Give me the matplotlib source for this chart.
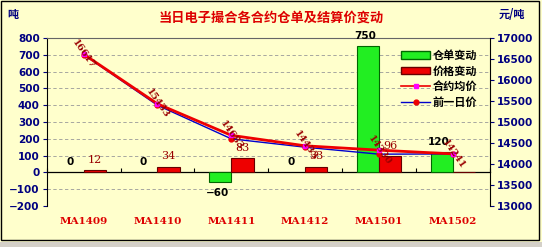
import matplotlib
matplotlib.use("Agg")
import matplotlib.pyplot as plt
from matplotlib.patches import Rectangle
from matplotlib.lines import Line2D
from matplotlib.transforms import blended_transform_factory
import numpy as np

plt.rcParams['font.family'] = ['Noto Sans CJK SC', 'DejaVu Sans']

contracts = ["MA1409", "MA1410", "MA1411", "MA1412", "MA1501", "MA1502"]
stock_change = [0, 0, -60, 0, 750, 120]        # 仓单变动 (吨)
price_change = [12, 34, 83, 33, 96, 1]         # 价格变动
avg_price = [16617, 15433, 14683, 14433, 14330, 14241]   # 合约均价
prev_price = [16605, 15399, 14600, 14400, 14234, 14240]  # 前一日价

BG = "#FFFFCC"
NAVY = "#000080"

fig = plt.figure(figsize=(5.42, 2.47), dpi=100)
fig.patch.set_facecolor(BG)
fig.patches.append(Rectangle((0.002, 0.028), 0.993, 0.968, transform=fig.transFigure,
                             fill=False, edgecolor="black", linewidth=1.0))
fig.patches.append(Rectangle((0, 0), 1, 0.022, transform=fig.transFigure,
                             facecolor="#D4D0C8", edgecolor="none"))

ax = fig.add_axes([0.086, 0.166, 0.818, 0.68])
ax.set_facecolor(BG)
x = np.arange(len(contracts))
w = 0.3

ax.bar(x - w / 2, stock_change, w, color="#22EE22", edgecolor="#006600",
       linewidth=[0.8 if v else 0 for v in stock_change], zorder=3)
ax.bar(x + w / 2, price_change, w, color="#EE0000", edgecolor="#660000",
       linewidth=[0.8 if v else 0 for v in price_change], zorder=3)

ax.set_xlim(-0.5, len(contracts) - 0.5)
ax.set_ylim(-200, 800)
ax.set_yticks(np.arange(-200, 801, 100))
for v in np.arange(-200, 801, 100):
    if v != 0:
        ax.axhline(v, color="#999999", linestyle=(0, (4, 3)), linewidth=0.6, zorder=1)
ax.tick_params(axis="y", colors=NAVY, labelsize=7.5, length=3, width=0.8, pad=2)
for t in ax.get_yticklabels():
    t.set_fontweight("bold")
    t.set_family("DejaVu Sans")

ax.spines["bottom"].set_position(("data", 0))
ax.spines["bottom"].set_linewidth(0.9)
ax.spines["left"].set_linewidth(0.8)
ax.spines["right"].set_visible(False)
ax.spines["top"].set_color("#666666")
ax.spines["top"].set_linewidth(0.8)
ax.set_xticks(np.arange(-0.5, len(contracts), 1.0))
ax.set_xticklabels([])
ax.tick_params(axis="x", direction="in", length=3, width=0.8)

trans = blended_transform_factory(ax.transData, ax.transAxes)
for xi, name in zip(x, contracts):
    ax.text(xi, -0.095, name, transform=trans, ha="center", va="center",
            color="#DD0000", fontsize=7.5, fontweight="bold", family="DejaVu Serif")

for xi, v in zip(x, stock_change):
    off = 4 if v >= 0 else -4
    ax.annotate(str(v).replace("-", "−"), (xi - w / 2, v), xytext=(-2, off), textcoords="offset points",
                ha="center", va="bottom" if v >= 0 else "top", fontsize=7.5,
                fontweight="bold", color="black", family="DejaVu Sans")
for xi, v in zip(x, price_change):
    if v < 10:
        continue
    ax.annotate(str(v), (xi + w / 2, v), xytext=(0, 4), textcoords="offset points",
                ha="center", va="bottom", fontsize=8, color="#990000", family="DejaVu Serif")

ax2 = ax.twinx()
ax2.set_ylim(13000, 17000)
ax2.set_yticks(np.arange(13000, 17001, 500))
ax2.tick_params(axis="y", colors=NAVY, labelsize=7.5, length=3, width=0.8, pad=2)
for t in ax2.get_yticklabels():
    t.set_fontweight("bold")
    t.set_family("DejaVu Sans")
for s in ["top", "bottom", "left"]:
    ax2.spines[s].set_visible(False)
ax2.spines["right"].set_linewidth(0.8)

ax2.plot(x, prev_price, color="#0000CC", linewidth=1.0, marker="o", markersize=3.5,
         markerfacecolor="#EE0000", markeredgecolor="#EE0000", zorder=4)
ax2.plot(x, avg_price, color="#EE0000", linewidth=2.0, marker="s", markersize=3.5,
         markerfacecolor="#FF00FF", markeredgecolor="#FF00FF", zorder=5)
for xi, v in zip(x, avg_price):
    ax2.text(xi, v, str(v), rotation=-55, ha="center", va="center", fontsize=7,
             color="#990000", fontweight="bold", family="DejaVu Serif", zorder=6)

fig.text(0.50, 0.927, "当日电子撮合各合约仓单及结算价变动", ha="center", va="center",
         color="#DD0000", fontsize=9.5, fontweight="bold")
fig.text(0.024, 0.94, "吨", ha="center", va="center", color=NAVY, fontsize=8, fontweight="bold")
fig.text(0.945, 0.94, "元/吨", ha="center", va="center", color=NAVY, fontsize=8, fontweight="bold")

handles = [
    Rectangle((0, 0), 1, 1, facecolor="#22EE22", edgecolor="#006600"),
    Rectangle((0, 0), 1, 1, facecolor="#EE0000", edgecolor="#660000"),
    Line2D([], [], color="#EE0000", linewidth=1.2, marker="s", markersize=3.5,
           markerfacecolor="#FF00FF", markeredgecolor="#FF00FF"),
    Line2D([], [], color="#0000CC", linewidth=1.0, marker="o", markersize=3.5,
           markerfacecolor="#EE0000", markeredgecolor="#EE0000"),
]
labels = ["仓单变动", "价格变动", "合约均价", "前一日价"]
leg = ax2.legend(handles, labels, loc="upper left", bbox_to_anchor=(0.728, 0.83),
                 bbox_transform=fig.transFigure, frameon=False, fontsize=8,
                 handlelength=2.6, handletextpad=0.2, labelspacing=0.25, borderpad=0.1)
for t in leg.get_texts():
    t.set_fontweight("bold")

fig.savefig("out.png", dpi=100, facecolor=fig.get_facecolor())
